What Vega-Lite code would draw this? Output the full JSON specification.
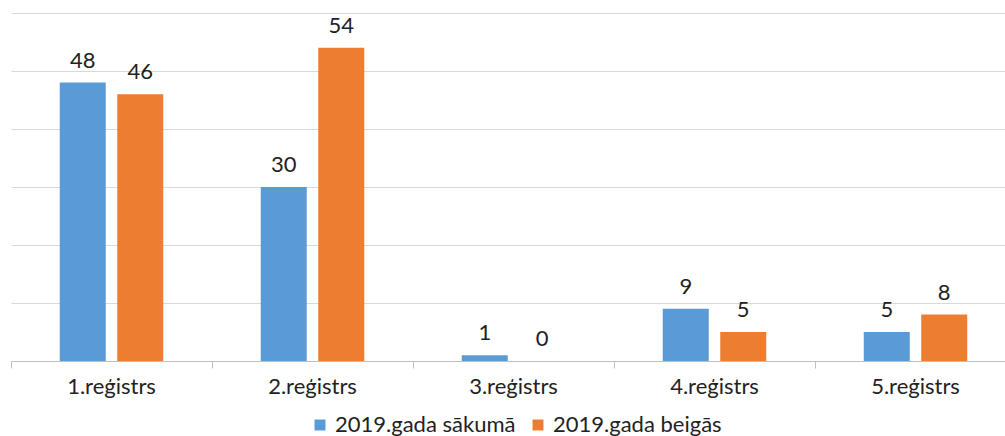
{
  "$schema": "https://vega.github.io/schema/vega-lite/v6.json",
  "width": 994,
  "height": 348,
  "autosize": {"type": "none"},
  "padding": {"left": 11, "top": 13, "right": 0, "bottom": 75},
  "background": "white",
  "config": {
    "view": {"stroke": null},
    "font": "Lato"
  },
  "data": {
    "values": [
      {"reg": "1.reģistrs", "period": "2019.gada sākumā", "value": 48},
      {"reg": "1.reģistrs", "period": "2019.gada beigās", "value": 46},
      {"reg": "2.reģistrs", "period": "2019.gada sākumā", "value": 30},
      {"reg": "2.reģistrs", "period": "2019.gada beigās", "value": 54},
      {"reg": "3.reģistrs", "period": "2019.gada sākumā", "value": 1},
      {"reg": "3.reģistrs", "period": "2019.gada beigās", "value": 0},
      {"reg": "4.reģistrs", "period": "2019.gada sākumā", "value": 9},
      {"reg": "4.reģistrs", "period": "2019.gada beigās", "value": 5},
      {"reg": "5.reģistrs", "period": "2019.gada sākumā", "value": 5},
      {"reg": "5.reģistrs", "period": "2019.gada beigās", "value": 8}
    ]
  },
  "encoding": {
    "x": {
      "field": "reg", "type": "nominal", "sort": null,
      "scale": {"paddingInner": 0, "paddingOuter": 0, "range": [0, 1005]},
      "axis": {
        "title": null, "labelAngle": 0, "labelFontSize": 22, "labelColor": "#222",
        "domainColor": "#bfbfbf", "tickColor": "#bfbfbf", "tickSize": 7,
        "bandPosition": 0, "labelPadding": 8, "grid": false
      }
    },
    "xOffset": {
      "field": "period", "type": "nominal", "sort": null,
      "scale": {"paddingInner": 0.2, "paddingOuter": 0.848}
    },
    "y": {
      "field": "value", "type": "quantitative",
      "scale": {"domain": [0, 60], "nice": false},
      "axis": {
        "title": null, "labels": false, "ticks": false, "domain": false,
        "values": [10, 20, 30, 40, 50, 60],
        "gridColor": "#d9d9d9", "gridWidth": 1
      }
    }
  },
  "layer": [
    {
      "mark": {"type": "bar"},
      "encoding": {
        "color": {
          "field": "period", "type": "nominal", "sort": null,
          "scale": {"domain": ["2019.gada sākumā", "2019.gada beigās"], "range": ["#5b9bd5", "#ed7d31"]},
          "legend": {
            "title": null, "orient": "none", "direction": "horizontal",
            "legendX": 298, "legendY": 401,
            "symbolType": "square", "symbolSize": 120, "symbolStrokeWidth": 0, "symbolOpacity": 1,
            "labelFontSize": 22, "labelColor": "#222", "labelLimit": 400,
            "columnPadding": 11, "labelOffset": 4
          }
        }
      }
    },
    {
      "mark": {"type": "text", "baseline": "bottom", "dy": -10, "fontSize": 22, "color": "#222"},
      "encoding": {
        "text": {"field": "value", "type": "quantitative"}
      }
    }
  ]
}
